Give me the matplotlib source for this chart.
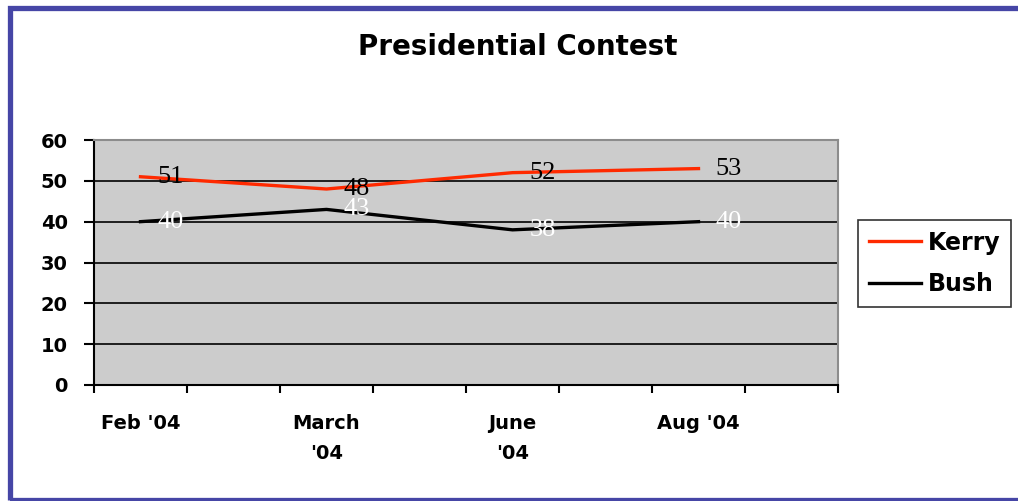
import numpy as np
import matplotlib
matplotlib.use("Agg")
import matplotlib.pyplot as plt
from matplotlib.patches import Rectangle

# Poll results (percent)
months = ["Feb '04", "March\n'04", "June\n'04", "Aug '04"]
kerry = [51, 48, 52, 53]
bush = [40, 43, 38, 40]
yticks = [0, 10, 20, 30, 40, 50, 60]

KERRY_RED = "#ff2a00"
BORDER_BLUE = "#4646a6"

fig = plt.figure(figsize=(10.18, 5.01), dpi=100)
fig.patch.set_facecolor("white")

# blue frame around the whole chart
frame = Rectangle((9.5 / 1018, 1.0 / 501), 1.2, (501 - 7.5 - 1.0) / 501,
                  transform=fig.transFigure, fill=False,
                  edgecolor=BORDER_BLUE, linewidth=3.8, zorder=0)
fig.patches.append(frame)

ax = fig.add_axes([94 / 1018, 116 / 501, 744 / 1018, 245 / 501])
ax.set_facecolor("#cccccc")

# each month occupies two category slots (every other slot is unlabeled)
x = np.arange(len(months)) * 2

ax.set_xlim(-0.5, 7.5)
ax.set_ylim(0, 60)

# horizontal grid lines
for yv in yticks[1:-1]:
    ax.axhline(yv, color="black", linewidth=1.2, zorder=1)

ax.plot(x, kerry, color=KERRY_RED, linewidth=2.4, label="Kerry", zorder=3)
ax.plot(x, bush, color="black", linewidth=2.4, label="Bush", zorder=3)

# data labels, shifted to the right of each point
for xi, k, b in zip(x, kerry, bush):
    ax.annotate(str(k), (xi, k), xytext=(21.6, 0), textcoords="offset points",
                ha="center", va="center", fontsize=19,
                family="Liberation Serif", color="black", zorder=4)
    ax.annotate(str(b), (xi, b), xytext=(21.6, 0), textcoords="offset points",
                ha="center", va="center", fontsize=19,
                family="Liberation Serif", color="white", zorder=4)

# axes styling
ax.spines["left"].set_color("black")
ax.spines["bottom"].set_color("black")
ax.spines["left"].set_linewidth(1.5)
ax.spines["bottom"].set_linewidth(1.5)
ax.spines["top"].set_color("#8c8c8c")
ax.spines["right"].set_color("#8c8c8c")
ax.spines["top"].set_linewidth(1.5)
ax.spines["right"].set_linewidth(1.5)

ax.set_yticks(yticks)
ax.set_yticklabels([str(v) for v in yticks], fontsize=14,
                   fontweight="bold", family="DejaVu Sans")
ax.tick_params(axis="y", direction="out", length=7, width=1.5, pad=12)

ax.set_xticks(x)
ax.set_xticklabels(months, fontsize=14, fontweight="bold",
                   family="DejaVu Sans", linespacing=1.75)
ax.set_xticks(np.arange(-0.5, 8, 1), minor=True)
ax.tick_params(axis="x", which="major", length=0, pad=21)
ax.tick_params(axis="x", which="minor", direction="out", length=6, width=1.5)

fig.text(518 / 1018, (501 - 47) / 501, "Presidential Contest",
         ha="center", va="center", fontsize=20, fontweight="bold",
         family="DejaVu Sans")

leg = ax.legend(loc="center left", bbox_to_anchor=(858 / 1018, 0.474),
                bbox_transform=fig.transFigure, frameon=True, fancybox=False,
                prop={"family": "DejaVu Sans", "weight": "bold", "size": 17},
                handlelength=2.2, handletextpad=0.3, borderpad=0.45,
                labelspacing=0.75, borderaxespad=0)
leg.get_frame().set_edgecolor("black")
leg.get_frame().set_linewidth(1.2)

fig.savefig("out.png", dpi=100)
